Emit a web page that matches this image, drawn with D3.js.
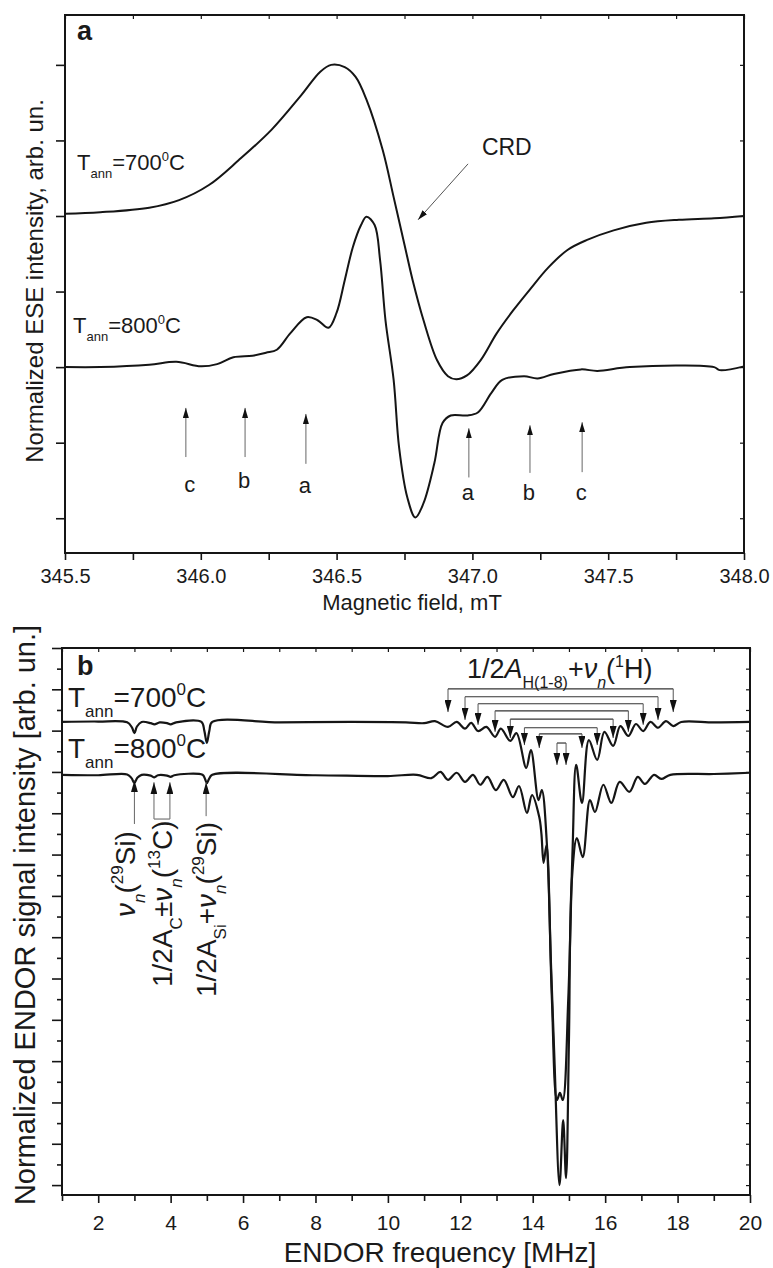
<!DOCTYPE html>
<html>
<head>
<meta charset="utf-8">
<script src="https://cdn.jsdelivr.net/npm/d3@7"></script>
<style>
  body { margin: 0; background: #fff; }
  text { font-family: Arial, "Liberation Sans", sans-serif; fill: #1a1a1a; }
</style>
</head>
<body>
<svg id="fig" width="773" height="1268"></svg>
<script>
// ---- panel a: ESE field sweeps, [field mT, intensity arb. un.] ----
const ese700 = [
  [345.50, 4.03], [345.63, 4.05], [345.81, 4.11], [345.92, 4.21], [346.03, 4.41],
  [346.14, 4.74], [346.26, 5.14], [346.37, 5.60], [346.44, 5.91], [346.48, 6.00],
  [346.53, 5.97], [346.57, 5.84], [346.61, 5.54], [346.67, 4.87], [346.71, 4.25],
  [346.75, 3.62], [346.78, 3.15], [346.82, 2.62], [346.87, 2.09], [346.91, 1.88],
  [346.94, 1.84], [346.98, 1.89], [347.03, 2.09], [347.09, 2.45], [347.15, 2.75],
  [347.21, 3.02], [347.28, 3.32], [347.35, 3.55], [347.42, 3.68], [347.52, 3.81],
  [347.64, 3.91], [347.76, 3.95], [347.89, 3.97], [348.00, 4.00]
];
const ese800 = [
  [345.50, 2.00], [345.63, 2.00], [345.81, 2.03], [345.91, 2.07], [346.00, 2.01],
  [346.06, 2.04], [346.12, 2.13], [346.19, 2.15], [346.24, 2.19], [346.28, 2.23],
  [346.33, 2.45], [346.39, 2.66], [346.43, 2.62], [346.47, 2.52], [346.50, 2.72],
  [346.53, 3.15], [346.56, 3.59], [346.59, 3.88], [346.61, 3.99], [346.64, 3.88],
  [346.66, 3.42], [346.68, 2.62], [346.71, 1.83], [346.73, 0.94], [346.76, 0.28],
  [346.79, 0.01], [346.82, 0.20], [346.86, 0.73], [346.89, 1.26], [346.92, 1.36],
  [346.98, 1.36], [347.02, 1.40], [347.07, 1.66], [347.11, 1.83], [347.19, 1.88],
  [347.24, 1.85], [347.30, 1.91], [347.40, 1.97], [347.46, 1.95], [347.58, 2.00],
  [347.89, 2.00], [347.91, 1.96], [348.00, 2.01]
];
// hyperfine satellite markers a, b, c
const satField = [345.945, 346.163, 346.387, 346.987, 347.212, 347.404];
const satName = ["c", "b", "a", "a", "b", "c"];
const satTail = [0.81, 0.81, 0.72, 0.54, 0.60, 0.61];
const satTip = [1.46, 1.46, 1.38, 1.19, 1.23, 1.27];
const satText = [0.35, 0.40, 0.33, 0.24, 0.24, 0.24];

// ---- panel b: ENDOR spectra, [frequency MHz, intensity arb. un.] ----
const endor700 = [
  [1.0, 11.21], [2.0, 11.22], [2.8, 11.20], [2.93, 11.08], [3.0, 10.94], [3.07, 11.10],
  [3.2, 11.21], [3.45, 11.18], [3.55, 11.15], [3.7, 11.20], [3.9, 11.18], [4.0, 11.15],
  [4.15, 11.20], [4.85, 11.21], [4.93, 11.0], [5.0, 10.7], [5.07, 11.0], [5.15, 11.21],
  [7.0, 11.20], [9.0, 11.21], [10.5, 11.20], [11.0, 11.18], [11.3, 11.23], [11.66, 11.09],
  [11.9, 11.21], [12.13, 11.05], [12.3, 11.19], [12.49, 10.99], [12.72, 11.09], [12.96, 10.85],
  [13.12, 11.05], [13.38, 10.75], [13.55, 10.94], [13.82, 10.10], [13.95, 10.53], [14.16, 9.32],
  [14.25, 9.56], [14.4, 8.11], [14.53, 4.48], [14.67, 2.06], [14.75, 2.23], [14.83, 2.06],
  [14.98, 4.48], [15.1, 8.11], [15.2, 10.17], [15.36, 9.25], [15.55, 10.77], [15.78, 10.29],
  [15.98, 10.97], [16.22, 10.63], [16.42, 11.11], [16.64, 10.87], [16.85, 11.16], [17.05, 10.99],
  [17.25, 11.21], [17.46, 11.07], [17.68, 11.23], [17.88, 11.11], [18.1, 11.21], [19.0, 11.20],
  [20.0, 11.21]
];
const endor800 = [
  [1.0, 9.93], [2.0, 9.92], [2.8, 9.94], [2.92, 9.85], [3.0, 9.73], [3.08, 9.86],
  [3.2, 9.93], [3.45, 9.91], [3.55, 9.87], [3.65, 9.92], [3.9, 9.91], [4.0, 9.88],
  [4.1, 9.92], [4.88, 9.93], [4.95, 9.83], [5.0, 9.73], [5.06, 9.83], [5.15, 9.93],
  [8.0, 9.92], [10.0, 9.90], [10.8, 9.93], [11.2, 9.85], [11.45, 10.0], [11.66, 9.81],
  [11.9, 9.98], [12.13, 9.76], [12.35, 9.93], [12.55, 9.69], [12.75, 9.88], [12.98, 9.56],
  [13.2, 9.81], [13.45, 9.39], [13.62, 9.66], [13.84, 9.01], [13.98, 9.44], [14.18, 8.91],
  [14.24, 8.5], [14.3, 7.80], [14.38, 8.23], [14.5, 5.45], [14.6, 3.03], [14.74, 0.0],
  [14.84, 1.57], [14.92, 0.17], [15.0, 3.51], [15.08, 7.38], [15.22, 8.40], [15.38, 7.94],
  [15.58, 9.32], [15.72, 9.03], [15.95, 9.69], [16.17, 9.25], [16.4, 9.76], [16.67, 9.52],
  [16.9, 9.88], [17.1, 9.71], [17.35, 9.93], [17.55, 9.83], [17.8, 9.93], [19.0, 9.95],
  [20.0, 9.98]
];
// 1H hyperfine pairs: low line, high line, bracket level, arrow tip level
const hLow = [11.66, 12.13, 12.49, 12.96, 13.38, 13.77, 14.18, 14.67];
const hHigh = [17.88, 17.46, 17.05, 16.64, 16.22, 15.78, 15.36, 14.92];
const hBar = [12.01, 11.82, 11.65, 11.48, 11.28, 11.07, 10.92, 10.70];
const hTip = [11.45, 11.26, 11.14, 10.97, 10.82, 10.65, 10.58, 10.17];
// Si / C lines marked below the 800 C trace
const lowLines = [3.0, 3.54, 3.98, 4.98];
const lowTip = [9.8, 9.75, 9.75, 9.75];
const lowTail = [8.74, 8.86, 8.86, 8.93];

const svg = d3.select("#fig");
const ink = "#151515";

const defs = svg.append("defs");
function marker(id, len, wid) {
  defs.append("marker")
    .attr("id", id)
    .attr("viewBox", `0 0 ${len} ${wid}`)
    .attr("refX", len).attr("refY", wid / 2)
    .attr("markerUnits", "userSpaceOnUse")
    .attr("markerWidth", len).attr("markerHeight", wid)
    .attr("orient", "auto")
    .append("path").attr("d", `M0,0 L${len},${wid / 2} L0,${wid} z`).attr("fill", "#111");
}
marker("head", 10, 6);
marker("headB", 12, 7);

// rich text with sub / superscripts
function rich(parent, x, y, parts, size, small, rot) {
  const g = parent.append("g").attr("transform", `translate(${x},${y})` + (rot ? " rotate(-90)" : ""));
  const t = g.append("text").attr("x", 0).attr("y", 0).attr("font-size", size);
  let shift = 0;
  parts.forEach((p) => {
    const target = p.s === "sub" ? size * 0.36 : p.s === "sup" ? -size * 0.42 : 0;
    t.append("tspan")
      .attr("dy", target - shift)
      .attr("font-size", p.s ? small : size)
      .attr("font-style", p.i ? "italic" : null)
      .text(p.t);
    shift = target;
  });
  return g;
}

function styleAxis(g, width) {
  g.select(".domain").remove();
  g.selectAll(".tick line").attr("stroke", ink).attr("stroke-width", width);
  g.selectAll(".tick text").attr("fill", "#1a1a1a");
}

// ================= panel a =================
const xA = d3.scaleLinear().domain([345.5, 348.0]).range([65, 744]);
const yA = d3.scaleLinear().domain([-0.46, 6.66]).range([553, 15]);
const gA = svg.append("g");

const xTicksA = d3.range(0, 11).map((i) => 345.5 + i * 0.25);
gA.append("g").attr("transform", "translate(0,553)")
  .call(d3.axisBottom(xA).tickValues(xTicksA).tickSizeInner(7).tickSizeOuter(0).tickPadding(9)
    .tickFormat((d) => (Math.round(d * 4) % 2 === 0 ? d.toFixed(1) : "")))
  .call((g) => styleAxis(g, 1.6))
  .selectAll("text").attr("font-size", 20).attr("font-family", "Arial, 'Liberation Sans', sans-serif");
gA.append("g").attr("transform", "translate(0,15)")
  .call(d3.axisTop(xA).tickValues(xTicksA).tickSizeInner(-4).tickSizeOuter(0).tickFormat(""))
  .call((g) => styleAxis(g, 1.2));
gA.append("g").attr("transform", "translate(65,0)")
  .call(d3.axisLeft(yA).tickValues(d3.range(0, 7)).tickSizeInner(9).tickSizeOuter(0).tickFormat(""))
  .call((g) => styleAxis(g, 1.6));
gA.append("g").attr("transform", "translate(744,0)")
  .call(d3.axisRight(yA).tickValues(d3.range(0, 7)).tickSizeInner(-4).tickSizeOuter(0).tickFormat(""))
  .call((g) => styleAxis(g, 1.2));

gA.append("rect").attr("x", 65).attr("y", 15).attr("width", 744 - 65).attr("height", 553 - 15)
  .attr("fill", "none").attr("stroke", ink).attr("stroke-width", 2);

const lineA = d3.line().x((d) => xA(d[0])).y((d) => yA(d[1])).curve(d3.curveCatmullRom.alpha(0.5));
[ese700, ese800].forEach((s) => {
  gA.append("path").attr("d", lineA(s)).attr("fill", "none")
    .attr("stroke", ink).attr("stroke-width", 2).attr("stroke-linejoin", "round");
});

satField.forEach((f, i) => {
  gA.append("line")
    .attr("x1", xA(f)).attr("x2", xA(f))
    .attr("y1", yA(satTail[i])).attr("y2", yA(satTip[i]))
    .attr("stroke", "#666").attr("stroke-width", 1)
    .attr("marker-end", "url(#head)");
  gA.append("text").attr("x", xA(f) + (i === 0 ? 4 : -1)).attr("y", yA(satText[i]))
    .attr("text-anchor", "middle").attr("font-size", 22).text(satName[i]);
});

// CRD pointer
gA.append("line")
  .attr("x1", xA(346.984)).attr("y1", yA(4.69))
  .attr("x2", xA(346.80)).attr("y2", yA(3.95))
  .attr("stroke", "#555").attr("stroke-width", 1)
  .attr("marker-end", "url(#head)");
gA.append("text").attr("x", xA(347.035)).attr("y", yA(4.81)).attr("font-size", 23).text("CRD");

gA.append("text").attr("x", 77).attr("y", 40).attr("font-size", 27).attr("font-weight", "bold").text("a");
rich(gA, 77, 170, [{ t: "T" }, { t: "ann", s: "sub" }, { t: "=700" }, { t: "0", s: "sup" }, { t: "C" }], 22, 13);
rich(gA, 73, 333, [{ t: "T" }, { t: "ann", s: "sub" }, { t: "=800" }, { t: "0", s: "sup" }, { t: "C" }], 22, 13);

gA.append("text").attr("x", 412).attr("y", 610).attr("text-anchor", "middle")
  .attr("font-size", 22).text("Magnetic field, mT");
gA.append("text").attr("transform", "translate(43,281) rotate(-90)").attr("text-anchor", "middle")
  .attr("font-size", 24).text("Normalized ESE intensity, arb. un.");

// ================= panel b =================
const xB = d3.scaleLinear().domain([1, 20]).range([62, 750]);
const yB = d3.scaleLinear().domain([-0.24, 13]).range([1195, 648]);
const gB = svg.append("g");

gB.append("g").attr("transform", "translate(0,1195)")
  .call(d3.axisBottom(xB).tickValues(d3.range(1, 20, 2)).tickSizeInner(6).tickSizeOuter(0).tickFormat(""))
  .call((g) => styleAxis(g, 1.6));
gB.append("g").attr("transform", "translate(0,1195)")
  .call(d3.axisBottom(xB).tickValues(d3.range(2, 21, 2)).tickSizeInner(8).tickSizeOuter(0).tickPadding(12))
  .call((g) => styleAxis(g, 1.6))
  .selectAll("text").attr("font-size", 21).attr("font-family", "Arial, 'Liberation Sans', sans-serif");
gB.append("g").attr("transform", "translate(0,648)")
  .call(d3.axisTop(xB).tickValues(d3.range(1, 21)).tickSizeInner(-4).tickSizeOuter(0).tickFormat(""))
  .call((g) => styleAxis(g, 1.2));
gB.append("g").attr("transform", "translate(62,0)")
  .call(d3.axisLeft(yB).tickValues(d3.range(0, 14)).tickSizeInner(10).tickSizeOuter(0).tickFormat(""))
  .call((g) => styleAxis(g, 1.6));
gB.append("g").attr("transform", "translate(62,0)")
  .call(d3.axisLeft(yB).tickValues(d3.range(0.5, 13, 1)).tickSizeInner(5).tickSizeOuter(0).tickFormat(""))
  .call((g) => styleAxis(g, 1.6));
gB.append("g").attr("transform", "translate(750,0)")
  .call(d3.axisRight(yB).tickValues(d3.range(0, 13.01, 0.5)).tickSizeInner(-4).tickSizeOuter(0).tickFormat(""))
  .call((g) => styleAxis(g, 1.2));

gB.append("rect").attr("x", 62).attr("y", 648).attr("width", 750 - 62).attr("height", 1195 - 648)
  .attr("fill", "none").attr("stroke", ink).attr("stroke-width", 2);

const lineB = d3.line().x((d) => xB(d[0])).y((d) => yB(d[1])).curve(d3.curveCatmullRom.alpha(0.5));
[endor700, endor800].forEach((s) => {
  gB.append("path").attr("d", lineB(s)).attr("fill", "none")
    .attr("stroke", ink).attr("stroke-width", 2.2).attr("stroke-linejoin", "round");
});

// 1H pair brackets
hLow.forEach((lo, i) => {
  const hi = hHigh[i];
  gB.append("path")
    .attr("d", `M${xB(lo)},${yB(hBar[i])} H${xB(hi)}`)
    .attr("stroke", "#333").attr("stroke-width", 1.2).attr("fill", "none");
  [lo, hi].forEach((f) => {
    gB.append("line")
      .attr("x1", xB(f)).attr("x2", xB(f))
      .attr("y1", yB(hBar[i])).attr("y2", yB(hTip[i]))
      .attr("stroke", "#555").attr("stroke-width", 1)
      .attr("marker-end", "url(#headB)");
  });
});

// Si / C markers
lowLines.forEach((f, i) => {
  gB.append("line")
    .attr("x1", xB(f)).attr("x2", xB(f))
    .attr("y1", yB(lowTail[i])).attr("y2", yB(lowTip[i]))
    .attr("stroke", "#666").attr("stroke-width", 1)
    .attr("marker-end", "url(#headB)");
});
gB.append("path")
  .attr("d", `M${xB(lowLines[1])},${yB(lowTail[1])} H${xB(lowLines[2])}`)
  .attr("stroke", "#777").attr("stroke-width", 1.2);

rich(gB, 135, 917, [{ t: "ν", i: 1 }, { t: "n", s: "sub", i: 1 }, { t: "(" }, { t: "29", s: "sup" }, { t: "Si)" }], 28, 17, true);
rich(gB, 172, 987, [{ t: "1/2A" }, { t: "C", s: "sub" }, { t: "±" }, { t: "ν", i: 1 }, { t: "n", s: "sub", i: 1 },
  { t: "(" }, { t: "13", s: "sup" }, { t: "C)" }], 28, 17, true);
rich(gB, 216, 997, [{ t: "1/2A" }, { t: "Si", s: "sub" }, { t: "+" }, { t: "ν", i: 1 }, { t: "n", s: "sub", i: 1 },
  { t: "(" }, { t: "29", s: "sup" }, { t: "Si)" }], 28, 17, true);

rich(gB, 467, 678, [{ t: "1/2" }, { t: "A", i: 1 }, { t: "H(1-8)", s: "sub" }, { t: "+" }, { t: "ν", i: 1 },
  { t: "n", s: "sub", i: 1 }, { t: "(" }, { t: "1", s: "sup" }, { t: "H)" }], 27, 16);

gB.append("text").attr("x", 77).attr("y", 675).attr("font-size", 27).attr("font-weight", "bold").text("b");
rich(gB, 68, 707, [{ t: "T" }, { t: "ann", s: "sub" }, { t: "=700" }, { t: "0", s: "sup" }, { t: "C" }], 28, 17);
rich(gB, 68, 758, [{ t: "T" }, { t: "ann", s: "sub" }, { t: "=800" }, { t: "0", s: "sup" }, { t: "C" }], 28, 17);

gB.append("text").attr("x", 440).attr("y", 1262).attr("text-anchor", "middle")
  .attr("font-size", 28).text("ENDOR frequency [MHz]");
gB.append("text").attr("transform", "translate(35,915) rotate(-90)").attr("text-anchor", "middle")
  .attr("font-size", 29).text("Normalized ENDOR signal intensity [arb. un.]");
</script>
</body>
</html>
